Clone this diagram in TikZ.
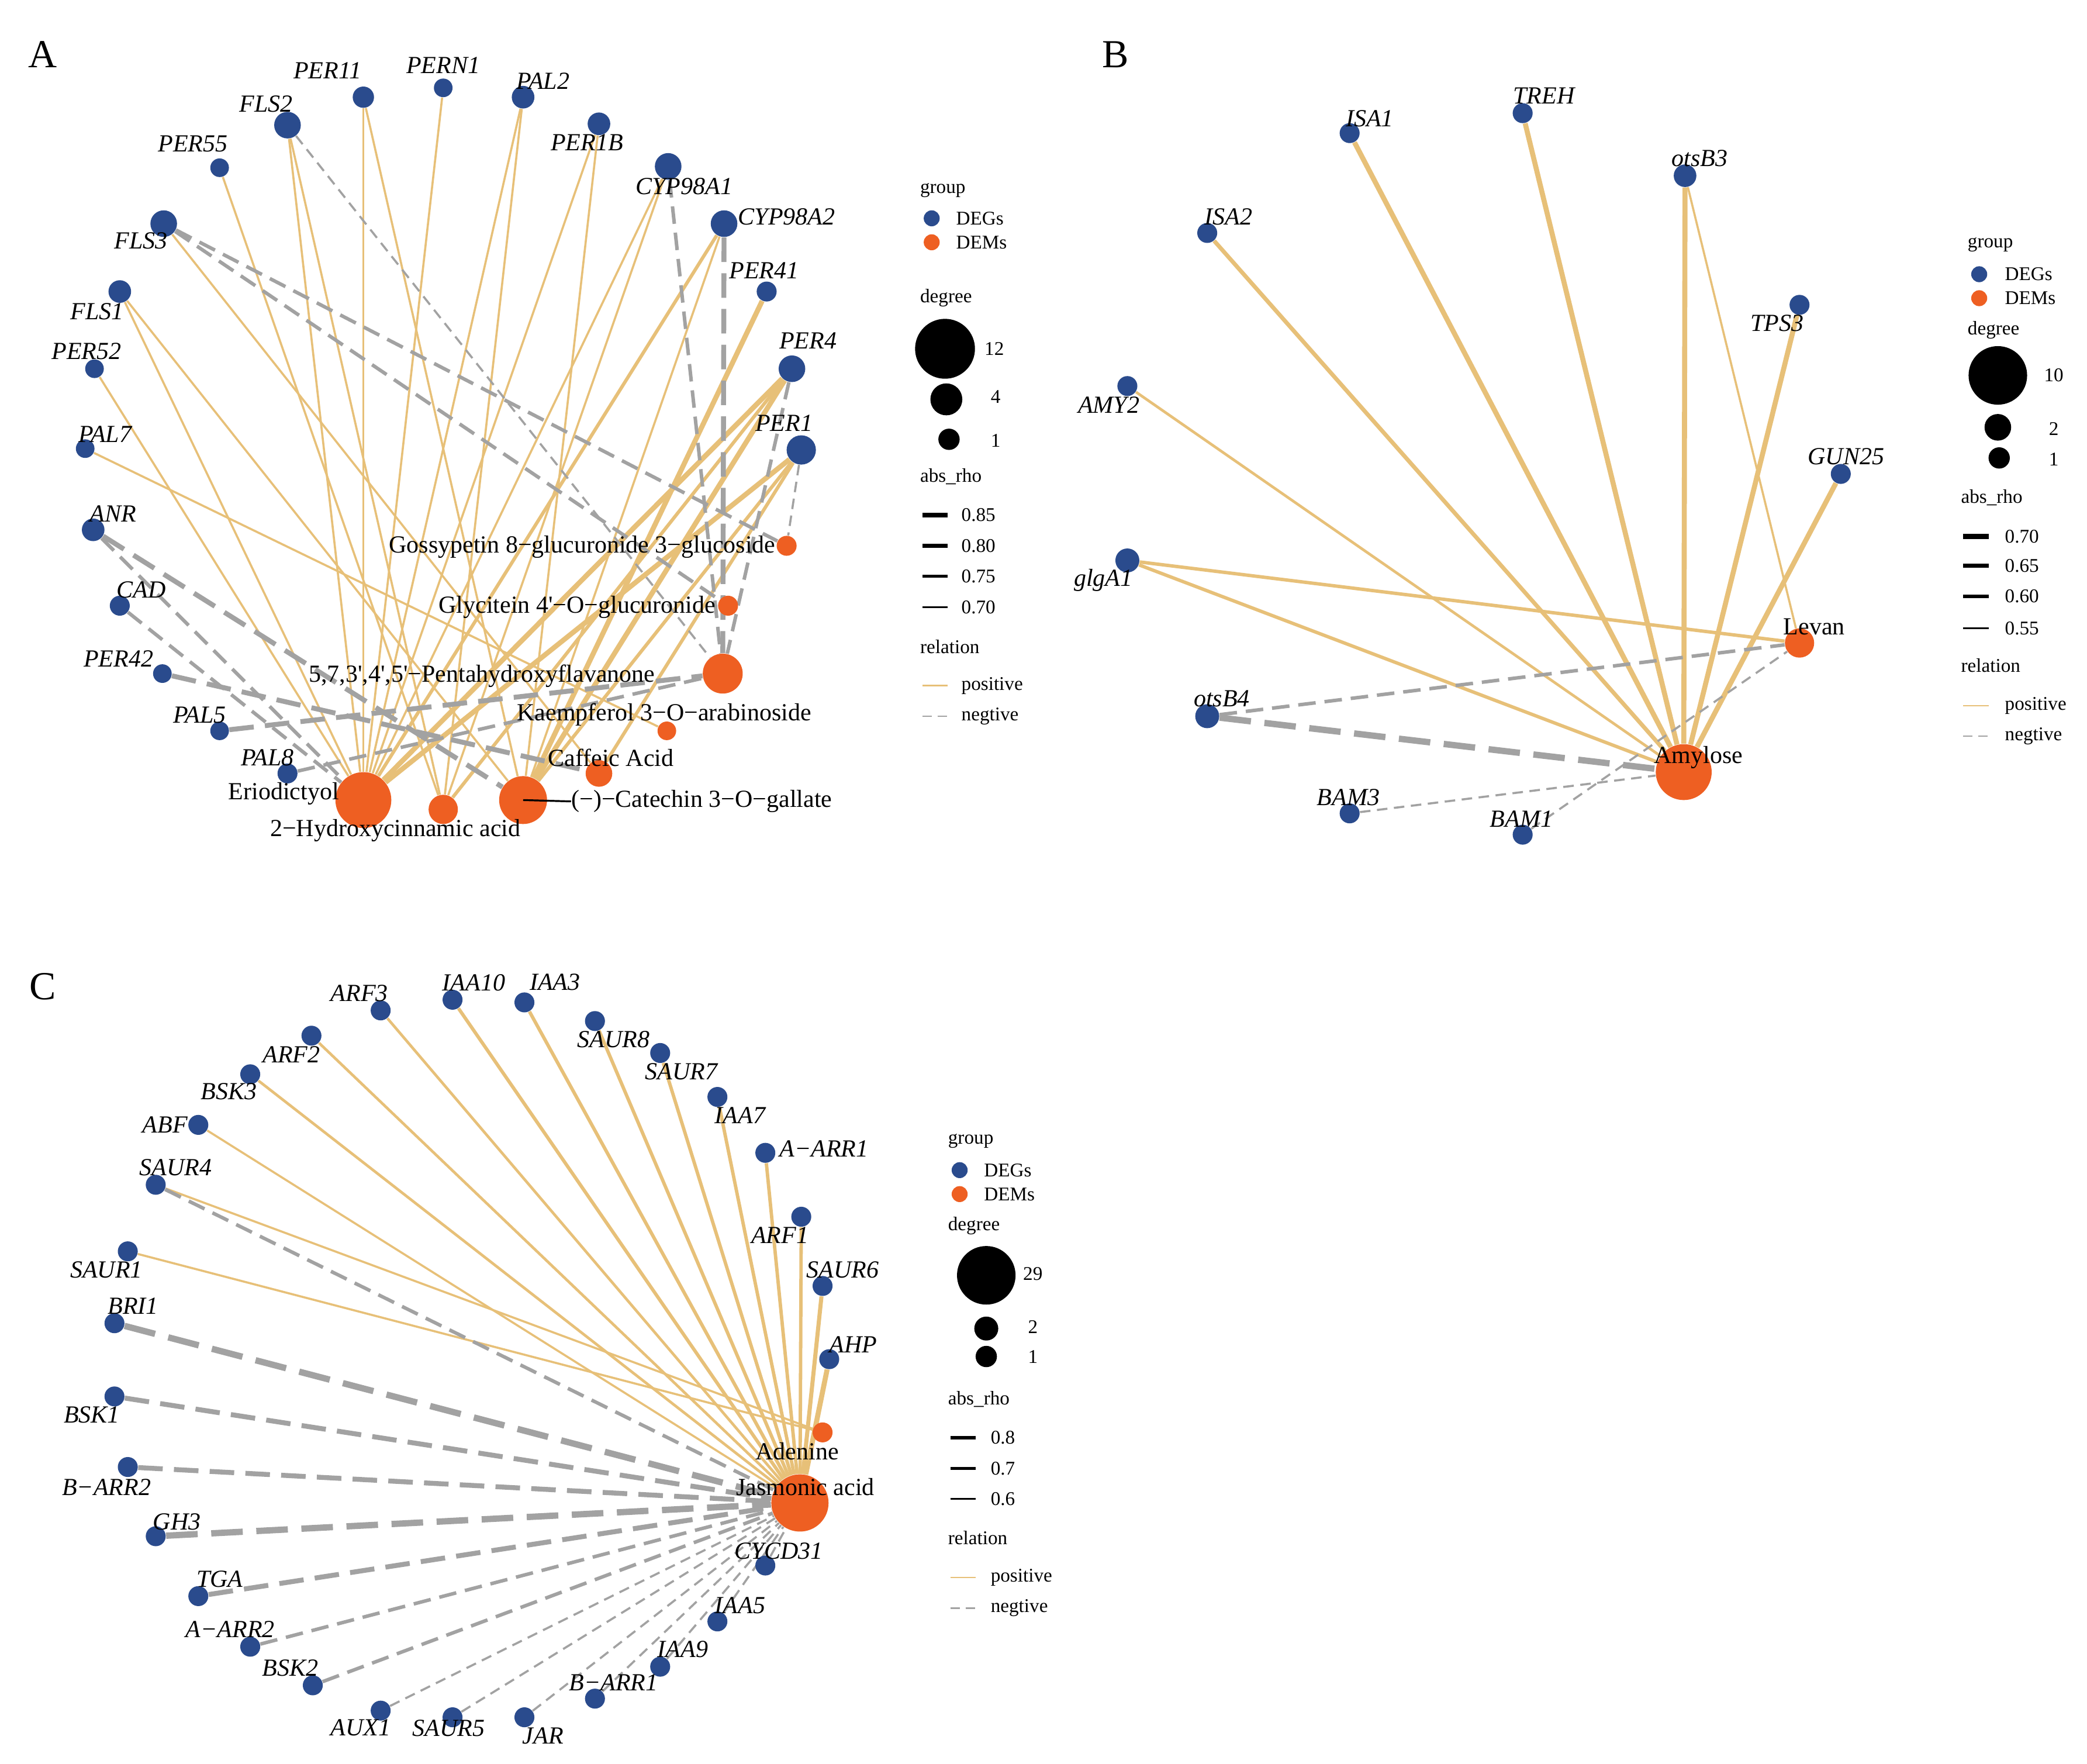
\documentclass[tikz,border=0pt]{standalone}
\usepackage{fontspec}
\setmainfont{Liberation Serif}
\usetikzlibrary{backgrounds}
\definecolor{degblue}{HTML}{2A4B8D}
\definecolor{demorange}{HTML}{EE5F22}
\definecolor{tanc}{HTML}{E7C078}
\definecolor{greyc}{HTML}{A2A2A2}
\newcommand\glfont{\fontsize{10.5}{12}\selectfont\itshape}
\newcommand\mlfont{\fontsize{10.5}{12}\selectfont}
\newcommand\lgfont{\fontsize{8.3}{10}\selectfont}
\newcommand\pnfont{\fontsize{17}{20}\selectfont}
\tikzset{
  deg/.style={circle,fill=degblue,inner sep=0pt,minimum size=#1*0.04cm},
  dem/.style={circle,fill=demorange,inner sep=0pt,minimum size=#1*0.04cm},
  blk/.style={circle,fill=black,inner sep=0pt,minimum size=#1*0.04cm},
  gl/.style={font=\glfont,inner sep=0pt},
  ml/.style={font=\mlfont,inner sep=0pt},
  lg/.style={font=\lgfont,inner sep=0pt},
  pn/.style={font=\pnfont,inner sep=0pt},
  p1/.style={draw=tanc,line width=0.9pt},
  p15/.style={draw=tanc,line width=1.15pt},
  p2/.style={draw=tanc,line width=1.45pt},
  p25/.style={draw=tanc,line width=1.75pt},
  p3/.style={draw=tanc,line width=2.15pt},
  n1/.style={draw=greyc,line width=0.9pt,dash pattern=on 4.5pt off 2.8pt},
  n2/.style={draw=greyc,line width=1.5pt,dash pattern=on 7.5pt off 3.8pt},
  n3/.style={draw=greyc,line width=2.1pt,dash pattern=on 10.5pt off 4.8pt},
  n4/.style={draw=greyc,line width=2.7pt,dash pattern=on 13.5pt off 5.8pt},
  lgpos/.style={draw=tanc,line width=0.6pt},
  lgneg/.style={draw=greyc,line width=0.6pt,dash pattern=on 4pt off 2.5pt},
}
\begin{document}
\begin{tikzpicture}[x=0.02cm,y=-0.02cm]
\useasboundingbox (0,0) rectangle (1568,1325);

% ================= PANEL A =================
\node[pn] (pA) at (32,41) {A};
% DEGs
\node[deg=8]   (PER11)   at (273,73)  {};
\node[deg=7]   (PERN1)   at (333,66)  {};
\node[deg=8.5] (PAL2)    at (393,73)  {};
\node[deg=10]  (FLS2)    at (216,94)  {};
\node[deg=8.5] (PER1B)   at (450,93)  {};
\node[deg=7]   (PER55)   at (165,126) {};
\node[deg=10]  (CYP98A1) at (502,125) {};
\node[deg=10]  (CYP98A2) at (544,168) {};
\node[deg=10]  (FLS3)    at (123,168) {};
\node[deg=7.5] (PER41)   at (576,219) {};
\node[deg=8.5] (FLS1)    at (90,219)  {};
\node[deg=10]  (PER4)    at (595,277) {};
\node[deg=7]   (PER52)   at (71,277)  {};
\node[deg=7]   (PAL7)    at (64,337)  {};
\node[deg=11]  (PER1)    at (602,338) {};
\node[deg=8.5] (ANR)     at (70,398)  {};
\node[deg=7.5] (CAD)     at (90,455)  {};
\node[deg=7]   (PER42)   at (122,506) {};
\node[deg=7]   (PAL5)    at (165,549) {};
\node[deg=7.5] (PAL8)    at (216,581) {};
% DEMs
\node[dem=21]  (Erio) at (273,601) {};
\node[dem=11]  (Hyd)  at (333,608) {};
\node[dem=18]  (Cat)  at (393,601) {};
\node[dem=10]  (Caf)  at (450,581) {};
\node[dem=7]   (Kae)  at (501,549) {};
\node[dem=15]  (Pen)  at (543,506) {};
\node[dem=7.5] (Gly)  at (547,455) {};
\node[dem=7.5] (Gos)  at (591,410) {};
% gene labels
\node[gl] (lPER11)   at (246,53)  {PER11};
\node[gl] (lPERN1)   at (333,49)  {PERN1};
\node[gl] (lPAL2)    at (408,61)  {PAL2};
\node[gl] (lFLS2)    at (200,78)  {FLS2};
\node[gl] (lPER1B)   at (441,107) {PER1B};
\node[gl] (lPER55)   at (145,108) {PER55};
\node[gl] (lCYP98A1) at (514,140) {CYP98A1};
\node[gl] (lCYP98A2) at (591,163) {CYP98A2};
\node[gl] (lFLS3)    at (106,181) {FLS3};
\node[gl] (lPER41)   at (574,203) {PER41};
\node[gl] (lFLS1)    at (73,234)  {FLS1};
\node[gl] (lPER4)    at (607,256) {PER4};
\node[gl] (lPER52)   at (65,264)  {PER52};
\node[gl] (lPAL7)    at (79,326)  {PAL7};
\node[gl] (lPER1)    at (589,318) {PER1};
\node[gl] (lANR)     at (85,386)  {ANR};
\node[gl] (lCAD)     at (106,443) {CAD};
\node[gl] (lPER42)   at (89,495)  {PER42};
\node[gl] (lPAL5)    at (150,537) {PAL5};
\node[gl] (lPAL8)    at (201,569) {PAL8};
% metabolite labels
\node[ml,anchor=east] (lGos) at (583,411) {Gossypetin 8−glucuronide 3−glucoside};
\node[ml,anchor=east] (lGly) at (538,456) {Glycitein 4\textquotesingle−O−glucuronide};
\node[ml] (lPen) at (362,508) {5,7,3\textquotesingle,4\textquotesingle,5\textquotesingle−Pentahydroxyflavanone};
\node[ml] (lKae) at (499,537) {Kaempferol 3−O−arabinoside};
\node[ml] (lCaf) at (459,569) {Caffeic Acid};
\node[ml,anchor=east] (lErio) at (255,596) {Eriodictyol};
\node[ml] (lHyd) at (297,624) {2−Hydroxycinnamic acid};
\node[ml,anchor=west] (lCat) at (429,602) {(−)−Catechin 3−O−gallate};
\draw[black,line width=0.8pt] (Cat.center) -- (lCat.west);

% ================= PANEL B =================
\node[pn] (pB) at (838,41) {B};
\node[deg=7.5] (ISA1)  at (1014,100) {};
\node[deg=7.5] (TREH)  at (1144,85)  {};
\node[deg=8.5] (otsB3) at (1266,132) {};
\node[deg=7.5] (ISA2)  at (907,175)  {};
\node[deg=7.5] (TPS3)  at (1352,229) {};
\node[deg=7.5] (AMY2)  at (847,290)  {};
\node[deg=7.5] (GUN25) at (1383,356) {};
\node[deg=9]   (glgA1) at (847,421)  {};
\node[deg=9]   (otsB4) at (907,538)  {};
\node[deg=7.5] (BAM3)  at (1014,611) {};
\node[deg=7.5] (BAM1)  at (1144,627) {};
\node[dem=11]  (Lev)   at (1352,483) {};
\node[dem=21]  (Amy)   at (1265,580) {};
\node[gl] (lISA1)  at (1029,89)  {ISA1};
\node[gl] (lTREH)  at (1160,72)  {TREH};
\node[gl] (lotsB3) at (1277,119) {otsB3};
\node[gl] (lISA2)  at (923,163)  {ISA2};
\node[gl] (lTPS3)  at (1335,243) {TPS3};
\node[gl] (lAMY2)  at (833,304)  {AMY2};
\node[gl] (lGUN25) at (1387,343) {GUN25};
\node[gl] (lglgA1) at (829,436)  {glgA1};
\node[gl] (lotsB4) at (918,525)  {otsB4};
\node[gl] (lBAM3)  at (1013,599) {BAM3};
\node[gl] (lBAM1)  at (1143,615) {BAM1};
\node[ml] (lLev)   at (1363,471) {Levan};
\node[ml] (lAmy)   at (1276,569) {Amylose};

% ================= PANEL C =================
\node[pn] (pC) at (32,741) {C};
\node[deg=7.5] (ARF3)   at (286,759)  {};
\node[deg=7.5] (IAA10)  at (340,751)  {};
\node[deg=7.5] (IAA3)   at (394,753)  {};
\node[deg=7.5] (SAUR8)  at (447,767)  {};
\node[deg=7.5] (SAUR7)  at (496,791)  {};
\node[deg=7.5] (ARF2)   at (234,778)  {};
\node[deg=7.5] (BSK3)   at (188,807)  {};
\node[deg=7.5] (IAA7)   at (539,824)  {};
\node[deg=7.5] (ABF)    at (149,845)  {};
\node[deg=7.5] (AARR1)  at (575,866)  {};
\node[deg=7.5] (SAUR4)  at (117,890)  {};
\node[deg=7.5] (ARF1)   at (602,914)  {};
\node[deg=7.5] (SAUR1)  at (96,940)   {};
\node[deg=7.5] (SAUR6)  at (618,966)  {};
\node[deg=7.5] (BRI1)   at (86,994)   {};
\node[deg=7.5] (AHP)    at (623,1021) {};
\node[deg=7.5] (BSK1)   at (86,1049)  {};
\node[deg=7.5] (BARR2)  at (96,1102)  {};
\node[deg=7.5] (GH3)    at (117,1154) {};
\node[deg=7.5] (CYCD31) at (575,1176) {};
\node[deg=7.5] (TGA)    at (149,1199) {};
\node[deg=7.5] (IAA5)   at (539,1218) {};
\node[deg=7.5] (AARR2)  at (188,1237) {};
\node[deg=7.5] (IAA9)   at (496,1252) {};
\node[deg=7.5] (BSK2)   at (235,1266) {};
\node[deg=7.5] (BARR1)  at (447,1276) {};
\node[deg=7.5] (AUX1)   at (286,1285) {};
\node[deg=7.5] (SAUR5)  at (340,1290) {};
\node[deg=7.5] (JAR)    at (394,1290) {};
\node[dem=7.5] (Ade)    at (618,1076) {};
\node[dem=21.5] (JA)    at (601,1129) {};
\node[gl] (lARF3)   at (270,746)  {ARF3};
\node[gl] (lIAA10)  at (356,738)  {IAA10};
\node[gl] (lIAA3)   at (417,738)  {IAA3};
\node[gl] (lSAUR8)  at (461,781)  {SAUR8};
\node[gl] (lSAUR7)  at (512,805)  {SAUR7};
\node[gl] (lARF2)   at (219,792)  {ARF2};
\node[gl] (lBSK3)   at (172,820)  {BSK3};
\node[gl] (lIAA7)   at (556,838)  {IAA7};
\node[gl] (lABF)    at (124,845)  {ABF};
\node[gl] (lAARR1)  at (619,863)  {A−ARR1};
\node[gl] (lSAUR4)  at (132,877)  {SAUR4};
\node[gl] (lARF1)   at (586,928)  {ARF1};
\node[gl] (lSAUR1)  at (80,954)   {SAUR1};
\node[gl] (lSAUR6)  at (633,954)  {SAUR6};
\node[gl] (lBRI1)   at (100,981)  {BRI1};
\node[gl] (lAHP)    at (641,1010) {AHP};
\node[gl] (lBSK1)   at (69,1063)  {BSK1};
\node[gl] (lBARR2)  at (80,1117)  {B−ARR2};
\node[gl] (lGH3)    at (133,1143) {GH3};
\node[gl] (lCYCD31) at (585,1165) {CYCD31};
\node[gl] (lTGA)    at (165,1186) {TGA};
\node[gl] (lIAA5)   at (556,1206) {IAA5};
\node[gl] (lAARR2)  at (173,1224) {A−ARR2};
\node[gl] (lIAA9)   at (513,1239) {IAA9};
\node[gl] (lBSK2)   at (218,1253) {BSK2};
\node[gl] (lBARR1)  at (461,1264) {B−ARR1};
\node[gl] (lAUX1)   at (271,1298) {AUX1};
\node[gl] (lSAUR5)  at (337,1298) {SAUR5};
\node[gl] (lJAR)    at (408,1304) {JAR};
\node[ml] (lAde) at (599,1090) {Adenine};
\node[ml] (lJA)  at (605,1117) {Jasmonic acid};

% ================= EDGES (behind) =================
\begin{scope}[on background layer]
\fill[white] (0,0) rectangle (1568,1325);
% --- A positive
\draw[p1] (PER11) -- (Erio);
\draw[p1] (PER11) -- (Cat);
\draw[p1] (PERN1) -- (Erio);
\draw[p1] (PAL2) -- (Erio);
\draw[p1] (PAL2) -- (Hyd);
\draw[p1] (PER1B) -- (Erio);
\draw[p1] (PER1B) -- (Cat);
\draw[p1] (FLS2) -- (Erio);
\draw[p1] (FLS2) -- (Hyd);
\draw[p1] (PER55) -- (Hyd);
\draw[p1] (CYP98A1) -- (Erio);
\draw[p1] (CYP98A1) -- (Hyd);
\draw[p1] (FLS3) -- (Caf);
\draw[p1] (FLS1) -- (Erio);
\draw[p1] (FLS1) -- (Cat);
\draw[p1] (PER52) -- (Erio);
\draw[p1] (PAL7) -- (Kae);
\draw[p1] (CYP98A2) -- (Cat);
\draw[p2] (CYP98A2) -- (Erio);
\draw[p3] (PER41) -- (Cat);
\draw[p3] (PER4) -- (Erio);
\draw[p2] (PER4) -- (Hyd);
\draw[p3] (PER4) -- (Cat);
\draw[p3] (PER1) -- (Erio);
\draw[p2] (PER1) -- (Cat);
\draw[p2] (PER1) -- (Caf);
% --- A negative
\draw[n1] (FLS2) -- (Pen);
\draw[n2] (CYP98A1) -- (Pen);
\draw[n3] (CYP98A2) -- (Pen);
\draw[n2] (PER4) -- (Pen);
\draw[n1] (PER1) -- (Gos);
\draw[n2] (FLS3) -- (Gos);
\draw[n2] (FLS3) -- (Gly);
\draw[n3] (ANR) -- (Cat);
\draw[n2] (ANR) -- (Erio);
\draw[n2] (CAD) -- (Erio);
\draw[n3] (PER42) -- (Caf);
\draw[n3] (PAL5) -- (Pen);
\draw[n2] (PAL8) -- (Pen);
% --- B
\draw[p3] (ISA1) -- (Amy);
\draw[p3] (TREH) -- (Amy);
\draw[p3] (otsB3) -- (Amy);
\draw[p1] (otsB3) -- (Lev);
\draw[p25] (ISA2) -- (Amy);
\draw[p3] (TPS3) -- (Amy);
\draw[p15] (AMY2) -- (Amy);
\draw[p3] (GUN25) -- (Amy);
\draw[p2] (glgA1) -- (Lev);
\draw[p2] (glgA1) -- (Amy);
\draw[n2] (otsB4) -- (Lev);
\draw[n4] (otsB4) -- (Amy);
\draw[n1] (BAM3) -- (Amy);
\draw[n1] (BAM1) -- (Lev);
% --- C positive
\draw[p15] (ARF3) -- (JA);
\draw[p2] (IAA10) -- (JA);
\draw[p2] (IAA3) -- (JA);
\draw[p2] (SAUR8) -- (JA);
\draw[p2] (SAUR7) -- (JA);
\draw[p15] (ARF2) -- (JA);
\draw[p15] (BSK3) -- (JA);
\draw[p2] (IAA7) -- (JA);
\draw[p1] (ABF) -- (JA);
\draw[p2] (AARR1) -- (JA);
\draw[p2] (ARF1) -- (JA);
\draw[p25] (SAUR6) -- (JA);
\draw[p3] (AHP) -- (JA);
\draw[p1] (SAUR4) -- (Ade);
\draw[p1] (SAUR1) -- (Ade);
% --- C negative
\draw[n2] (SAUR4) -- (JA);
\draw[n4] (BRI1) -- (JA);
\draw[n3] (BSK1) -- (JA);
\draw[n3] (BARR2) -- (JA);
\draw[n4] (GH3) -- (JA);
\draw[n3] (TGA) -- (JA);
\draw[n2] (AARR2) -- (JA);
\draw[n2] (BSK2) -- (JA);
\draw[n1] (AUX1) -- (JA);
\draw[n1] (SAUR5) -- (JA);
\draw[n1] (JAR) -- (JA);
\draw[n1] (BARR1) -- (JA);
\draw[n1] (IAA9) -- (JA);
\draw[n1] (IAA5) -- (JA);
\draw[n1] (CYCD31) -- (JA);
\end{scope}

% ================= LEGEND A =================
\node[lg,anchor=west] (gA) at (691,143) {group};
\node[deg=6] (gA1) at (700,164) {};
\node[dem=6] (gA2) at (700,182) {};
\node[lg,anchor=west] (gA1t) at (718,164) {DEGs};
\node[lg,anchor=west] (gA2t) at (718,182) {DEMs};
\node[lg,anchor=west] (dA) at (691,224) {degree};
\node[blk=22.5] (dA1) at (710,262) {};
\node[blk=12]   (dA2) at (711,300) {};
\node[blk=8]    (dA3) at (713,330) {};
\node[lg] (dA1t) at (747,262) {12};
\node[lg] (dA2t) at (748,298) {4};
\node[lg] (dA3t) at (748,331) {1};
\node[lg,anchor=west] (rA) at (691,358) {abs\_rho};
\coordinate (rA1a) at (693,387); \coordinate (rA1b) at (712,387);
\coordinate (rA2a) at (693,410); \coordinate (rA2b) at (712,410);
\coordinate (rA3a) at (693,433); \coordinate (rA3b) at (712,433);
\coordinate (rA4a) at (693,456); \coordinate (rA4b) at (712,456);
\draw[black,line width=2.05pt] (rA1a) -- (rA1b);
\draw[black,line width=1.6pt] (rA2a) -- (rA2b);
\draw[black,line width=1.2pt] (rA3a) -- (rA3b);
\draw[black,line width=0.8pt] (rA4a) -- (rA4b);
\node[lg,anchor=west] (rA1t) at (722,387) {0.85};
\node[lg,anchor=west] (rA2t) at (722,410) {0.80};
\node[lg,anchor=west] (rA3t) at (722,433) {0.75};
\node[lg,anchor=west] (rA4t) at (722,456) {0.70};
\node[lg,anchor=west] (eA) at (691,486) {relation};
\coordinate (eA1a) at (693,515); \coordinate (eA1b) at (712,515);
\coordinate (eA2a) at (693,538); \coordinate (eA2b) at (712,538);
\draw[lgpos] (eA1a) -- (eA1b);
\draw[lgneg] (eA2a) -- (eA2b);
\node[lg,anchor=west] (eA1t) at (722,515) {positive};
\node[lg,anchor=west] (eA2t) at (722,538) {negtive};

% ================= LEGEND B =================
\node[lg,anchor=west] (gB) at (1478,184) {group};
\node[deg=6] (gB1) at (1487,206) {};
\node[dem=6] (gB2) at (1487,224) {};
\node[lg,anchor=west] (gB1t) at (1506,206) {DEGs};
\node[lg,anchor=west] (gB2t) at (1506,224) {DEMs};
\node[lg,anchor=west] (dB) at (1478,248) {degree};
\node[blk=22] (dB1) at (1501,282) {};
\node[blk=10] (dB2) at (1501,321) {};
\node[blk=8]  (dB3) at (1502,344) {};
\node[lg] (dB1t) at (1543,282) {10};
\node[lg] (dB2t) at (1543,322) {2};
\node[lg] (dB3t) at (1543,345) {1};
\node[lg,anchor=west] (rB) at (1473,374) {abs\_rho};
\coordinate (rB1a) at (1475,403); \coordinate (rB1b) at (1494,403);
\coordinate (rB2a) at (1475,425); \coordinate (rB2b) at (1494,425);
\coordinate (rB3a) at (1475,448); \coordinate (rB3b) at (1494,448);
\coordinate (rB4a) at (1475,472); \coordinate (rB4b) at (1494,472);
\draw[black,line width=2.1pt] (rB1a) -- (rB1b);
\draw[black,line width=1.7pt] (rB2a) -- (rB2b);
\draw[black,line width=1.3pt] (rB3a) -- (rB3b);
\draw[black,line width=0.9pt] (rB4a) -- (rB4b);
\node[lg,anchor=west] (rB1t) at (1506,403) {0.70};
\node[lg,anchor=west] (rB2t) at (1506,425) {0.65};
\node[lg,anchor=west] (rB3t) at (1506,448) {0.60};
\node[lg,anchor=west] (rB4t) at (1506,472) {0.55};
\node[lg,anchor=west] (eB) at (1473,500) {relation};
\coordinate (eB1a) at (1475,530); \coordinate (eB1b) at (1494,530);
\coordinate (eB2a) at (1475,553); \coordinate (eB2b) at (1494,553);
\draw[lgpos] (eB1a) -- (eB1b);
\draw[lgneg] (eB2a) -- (eB2b);
\node[lg,anchor=west] (eB1t) at (1506,530) {positive};
\node[lg,anchor=west] (eB2t) at (1506,553) {negtive};

% ================= LEGEND C =================
\node[lg,anchor=west] (gC) at (712,857) {group};
\node[deg=6] (gC1) at (721,879) {};
\node[dem=6] (gC2) at (721,897) {};
\node[lg,anchor=west] (gC1t) at (739,879) {DEGs};
\node[lg,anchor=west] (gC2t) at (739,897) {DEMs};
\node[lg,anchor=west] (dC) at (712,921) {degree};
\node[blk=22] (dC1) at (741,958) {};
\node[blk=9]  (dC2) at (741,998) {};
\node[blk=8]  (dC3) at (741,1019) {};
\node[lg] (dC1t) at (776,957) {29};
\node[lg] (dC2t) at (776,997) {2};
\node[lg] (dC3t) at (776,1019) {1};
\node[lg,anchor=west] (rC) at (712,1051) {abs\_rho};
\coordinate (rC1a) at (714,1080); \coordinate (rC1b) at (733,1080);
\coordinate (rC2a) at (714,1103); \coordinate (rC2b) at (733,1103);
\coordinate (rC3a) at (714,1126); \coordinate (rC3b) at (733,1126);
\draw[black,line width=1.7pt] (rC1a) -- (rC1b);
\draw[black,line width=1.3pt] (rC2a) -- (rC2b);
\draw[black,line width=0.85pt] (rC3a) -- (rC3b);
\node[lg,anchor=west] (rC1t) at (744,1080) {0.8};
\node[lg,anchor=west] (rC2t) at (744,1103) {0.7};
\node[lg,anchor=west] (rC3t) at (744,1126) {0.6};
\node[lg,anchor=west] (eC) at (712,1155) {relation};
\coordinate (eC1a) at (714,1185); \coordinate (eC1b) at (733,1185);
\coordinate (eC2a) at (714,1208); \coordinate (eC2b) at (733,1208);
\draw[lgpos] (eC1a) -- (eC1b);
\draw[lgneg] (eC2a) -- (eC2b);
\node[lg,anchor=west] (eC1t) at (744,1185) {positive};
\node[lg,anchor=west] (eC2t) at (744,1208) {negtive};
\end{tikzpicture}
\end{document}
